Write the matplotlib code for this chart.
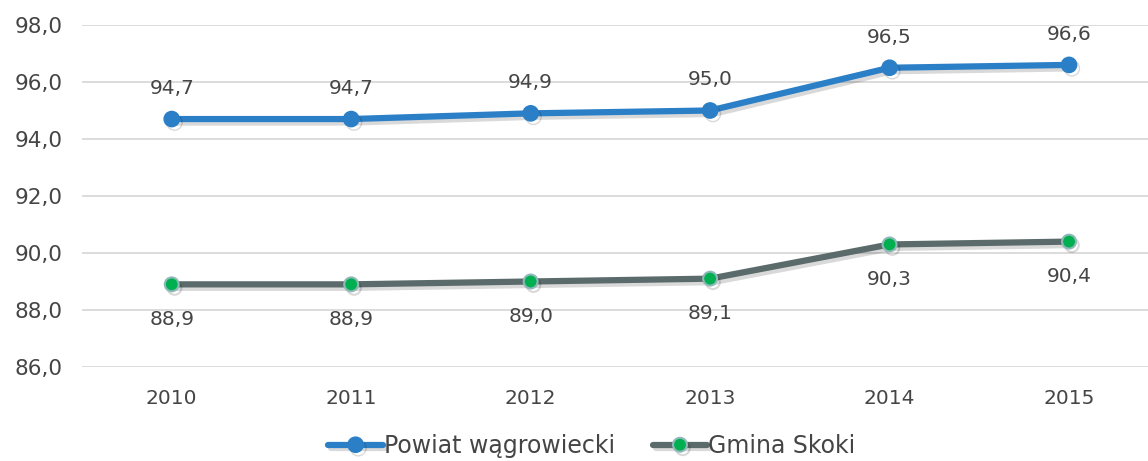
import matplotlib
matplotlib.use("Agg")
import matplotlib.pyplot as plt
import matplotlib.patheffects as pe

years = ["2010", "2011", "2012", "2013", "2014", "2015"]
powiat = [94.7, 94.7, 94.9, 95.0, 96.5, 96.6]
skoki = [88.9, 88.9, 89.0, 89.1, 90.3, 90.4]
yticks = [86, 88, 90, 92, 94, 96, 98]

plt.rcParams['font.family'] = ['DejaVu Sans']
txt = '#454545'
fs = 14.5

fig = plt.figure(figsize=(11.48, 4.61), dpi=100)
ax = fig.add_axes([82/1148, (461-367)/461, (1148-82)/1148, (367-25)/461])

x = list(range(len(years)))
shadow = [pe.SimpleLineShadow(offset=(2, -2.5), shadow_color='#000000', alpha=0.15), pe.Normal()]
ax.plot(x, powiat, color='#2B7FC7', lw=4.5, marker='o', ms=11, mfc='#2B7FC7', mec='#2B7FC7',
        solid_capstyle='round', label='Powiat wągrowiecki', path_effects=shadow, zorder=3)
ax.plot(x, skoki, color='#5B6B6B', lw=4.5, marker='o', ms=10, mfc='#00B050', mec='#8FB8B8', mew=1.5,
        solid_capstyle='round', label='Gmina Skoki', path_effects=shadow, zorder=3)

for xi, v in zip(x, powiat):
    ax.annotate(f"{v:.1f}".replace('.', ','), (xi, v), xytext=(0, 22), textcoords='offset points',
                ha='center', va='center', fontsize=fs, color=txt)
for xi, v in zip(x, skoki):
    ax.annotate(f"{v:.1f}".replace('.', ','), (xi, v), xytext=(0, -25), textcoords='offset points',
                ha='center', va='center', fontsize=fs, color=txt)

ax.set_xlim(-0.5, 5.44)
ax.set_ylim(86, 98)
ax.set_yticks(yticks)
ax.set_yticklabels([f"{t:.1f}".replace('.', ',') for t in yticks])
ax.set_xticks(x)
ax.set_xticklabels(years)
ax.tick_params(axis='both', length=0, labelsize=fs, labelcolor=txt)
ax.tick_params(axis='y', labelsize=15.5, pad=14)
ax.tick_params(axis='x', pad=16)
ax.grid(axis='y', color='#D9D9D9', lw=1.3)
ax.set_axisbelow(True)
for s in ax.spines.values():
    s.set_visible(False)

leg = fig.legend(loc='center', bbox_to_anchor=(592/1148, 1 - 446/461), ncol=2, frameon=False,
                 fontsize=17, handlelength=2.3, columnspacing=1.6, handletextpad=0.05,
                 labelcolor=txt)
fig.savefig("out.png", dpi=100)
